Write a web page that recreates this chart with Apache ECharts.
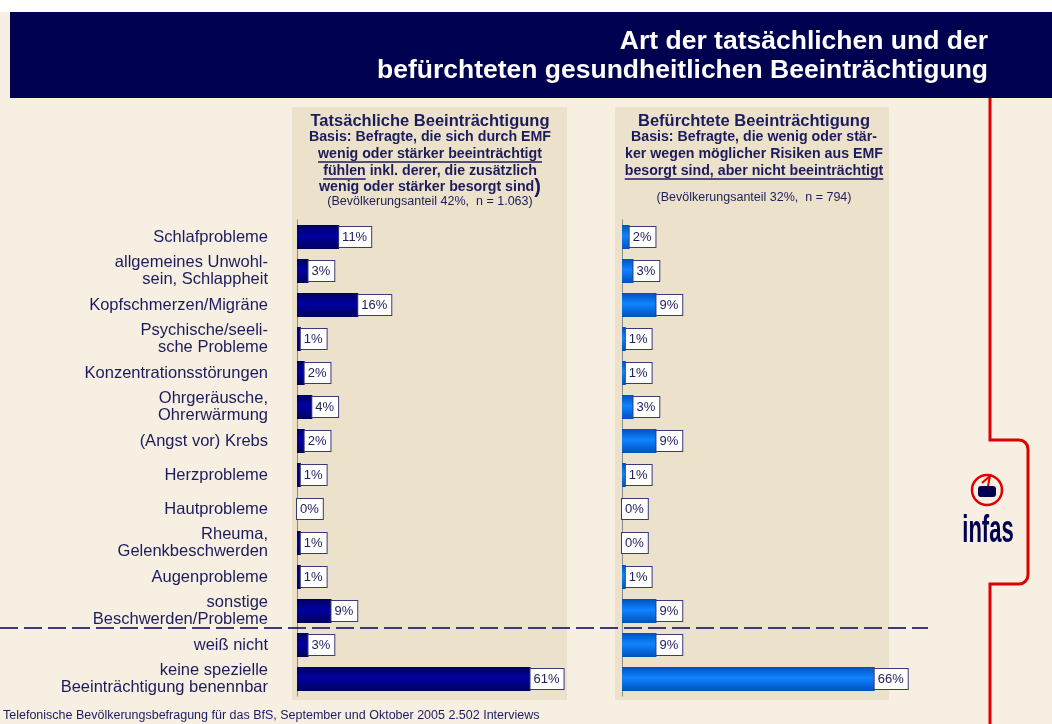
<!DOCTYPE html>
<html lang="de">
<head>
    <meta charset="UTF-8">
    <title>Art der tatsächlichen und der befürchteten gesundheitlichen Beeinträchtigung</title>
    <script src="https://cdn.jsdelivr.net/npm/echarts@6/dist/echarts.min.js"></script>
    <style>
        html, body { margin: 0; padding: 0; background: #f6efe2; }
    </style>
</head>
<body>
    <div id="main" style="width: 1052px;height: 724px"></div>
    <script type="text/javascript">
        // Daten
        var categories = [
            'Schlafprobleme',
            'allgemeines Unwohl-\nsein, Schlappheit',
            'Kopfschmerzen/Migräne',
            'Psychische/seeli-\nsche Probleme',
            'Konzentrationsstörungen',
            'Ohrgeräusche,\nOhrerwärmung',
            '(Angst vor) Krebs',
            'Herzprobleme',
            'Hautprobleme',
            'Rheuma,\nGelenkbeschwerden',
            'Augenprobleme',
            'sonstige\nBeschwerden/Probleme',
            'weiß nicht',
            'keine spezielle\nBeeinträchtigung benennbar'
        ];
        var tatsaechlich = [11, 3, 16, 1, 2, 4, 2, 1, 0, 1, 1, 9, 3, 61];
        var befuerchtet = [2, 3, 9, 1, 1, 3, 9, 1, 0, 0, 1, 9, 9, 66];

        var titleLines = ['Art der tatsächlichen und der', 'befürchteten gesundheitlichen Beeinträchtigung'];
        var footnote = 'Telefonische Bevölkerungsbefragung für das BfS, September und Oktober 2005 2.502 Interviews';

        var navy = '#1c1c5c';
        var red = '#dd0000';
        var font = '"Liberation Sans", Arial, sans-serif';

        // Textbreite messen (für Unterstreichungen)
        var ctx = document.createElement('canvas').getContext('2d');
        function textW(txt, size, bold) {
            ctx.font = (bold ? 'bold ' : '') + size + 'px ' + font;
            return ctx.measureText(txt).width;
        }

        function gradient(edge, mid) {
            return new echarts.graphic.LinearGradient(0, 0, 0, 1, [
                { offset: 0, color: edge },
                { offset: 0.45, color: mid },
                { offset: 1, color: edge }
            ]);
        }

        var barLabel = {
            show: true,
            position: 'right',
            distance: 0,
            formatter: '{c}%',
            color: '#22225e',
            fontFamily: font,
            fontSize: 13,
            backgroundColor: '#ffffff',
            borderColor: '#3a3a78',
            borderWidth: 1,
            padding: [3, 4, 3, 3],
            lineHeight: 14
        };

        // Kopftexte der Panels
        var leftCx = 430, rightCx = 754;
        var hSize = 16.5, bSize = 14.2, sSize = 12.5;
        function txt(x, y, s, size, bold, align) {
            return {
                type: 'text', x: x, y: y, silent: true,
                style: {
                    text: s, fill: navy, fontFamily: font, fontSize: size,
                    fontWeight: bold ? 'bold' : 'normal',
                    align: align || 'center', verticalAlign: 'middle'
                }
            };
        }
        function uline(x1, x2, y) {
            return {
                type: 'line', silent: true,
                shape: { x1: x1, y1: y, x2: x2, y2: y },
                style: { stroke: navy, lineWidth: 1.3 }
            };
        }
        function redLine(points) {
            return {
                type: 'polyline', silent: true,
                shape: { points: points },
                style: { stroke: red, lineWidth: 3, fill: null }
            };
        }
        function redArc(cx, cy, a0, a1) {
            return {
                type: 'arc', silent: true,
                shape: { cx: cx, cy: cy, r: 9, startAngle: a0, endAngle: a1, clockwise: true },
                style: { stroke: red, lineWidth: 3, fill: null }
            };
        }

        var l3 = 'wenig oder stärker beeinträchtigt';
        var l4 = 'fühlen inkl. derer, die zusätzlich';
        var r4 = 'besorgt sind, aber nicht beeinträchtigt';
        var w3 = textW(l3, bSize, true), w4 = textW(l4, bSize, true), w4a = textW('fühlen', bSize, true);
        var wr4 = textW(r4, bSize, true);

        var graphics = [
            // Kopfband
            { type: 'rect', silent: true, shape: { x: 0, y: 0, width: 1052, height: 12 }, style: { fill: '#ffffff' } },
            { type: 'rect', silent: true, shape: { x: 10, y: 12, width: 1042, height: 86 }, style: { fill: '#000050' } },
            {
                type: 'text', silent: true, x: 988, y: 42,
                style: { text: titleLines[0], fill: '#ffffff', fontFamily: font, fontSize: 26.5, fontWeight: 'bold', align: 'right', verticalAlign: 'middle' }
            },
            {
                type: 'text', silent: true, x: 988, y: 71,
                style: { text: titleLines[1], fill: '#ffffff', fontFamily: font, fontSize: 26.5, fontWeight: 'bold', align: 'right', verticalAlign: 'middle' }
            },
            // Panels
            { type: 'rect', silent: true, z: -10, shape: { x: 292, y: 107, width: 275, height: 593 }, style: { fill: '#ece2cc' } },
            { type: 'rect', silent: true, z: -10, shape: { x: 615, y: 107, width: 274, height: 593 }, style: { fill: '#ece2cc' } },
            // linker Kopf
            txt(leftCx, 121, 'Tatsächliche Beeinträchtigung', hSize, true),
            txt(leftCx, 137, 'Basis: Befragte, die sich durch EMF', bSize, true),
            txt(leftCx, 154, l3, bSize, true),
            uline(leftCx - w3 / 2, leftCx + w3 / 2, 162),
            txt(leftCx, 171, l4, bSize, true),
            uline(leftCx - w4 / 2, leftCx - w4 / 2 + w4a, 179),
            {
                type: 'text', silent: true, x: leftCx, y: 187,
                style: {
                    text: '{a|wenig oder stärker besorgt sind}{b|)}',
                    align: 'center', verticalAlign: 'middle',
                    rich: {
                        a: { fill: navy, fontFamily: font, fontSize: bSize, fontWeight: 'bold' },
                        b: { fill: navy, fontFamily: font, fontSize: 20, fontWeight: 'bold' }
                    }
                }
            },
            txt(leftCx, 202, '(Bevölkerungsanteil 42%,  n = 1.063)', sSize, false),
            // rechter Kopf
            txt(rightCx, 121, 'Befürchtete Beeinträchtigung', hSize, true),
            txt(rightCx, 137, 'Basis: Befragte, die wenig oder stär-', bSize, true),
            txt(rightCx, 154, 'ker wegen möglicher Risiken aus EMF', bSize, true),
            txt(rightCx, 171, r4, bSize, true),
            uline(rightCx - wr4 / 2, rightCx + wr4 / 2, 179),
            txt(rightCx, 198, '(Bevölkerungsanteil 32%,  n = 794)', sSize, false),
            // Fußnote
            txt(3, 716, footnote, sSize, false, 'left'),
            // rote Linie mit Klammer
            redLine([[990, 98], [990, 440], [1019, 440]]),
            redArc(1019, 449, -Math.PI / 2, 0),
            redLine([[1028, 449], [1028, 575]]),
            redArc(1019, 575, 0, Math.PI / 2),
            redLine([[1019, 584], [990, 584], [990, 724]]),
            // infas Logo
            {
                type: 'circle', silent: true,
                shape: { cx: 987, cy: 490, r: 15 },
                style: { stroke: red, lineWidth: 2.5, fill: null }
            },
            {
                type: 'rect', silent: true,
                shape: { x: 978, y: 486, width: 18, height: 11, r: 3 },
                style: { fill: '#000050' }
            },
            {
                type: 'polyline', silent: true,
                shape: { points: [[982, 483], [990, 476], [988, 486]] },
                style: { stroke: red, lineWidth: 2, fill: null }
            },
            {
                type: 'text', silent: true, x: 988, y: 532, scaleX: 0.58,
                style: { text: 'infas', fill: '#000050', fontFamily: font, fontSize: 38, fontWeight: 'bold', align: 'center', verticalAlign: 'middle' }
            }
        ];

        var myChart = echarts.init(document.getElementById('main'));

        var option = {
            animation: false,
            backgroundColor: '#f6efe2',
            grid: [
                { left: 297, width: 268, top: 220, height: 476 },
                { left: 622, width: 268, top: 220, height: 476 }
            ],
            xAxis: [
                { gridIndex: 0, type: 'value', min: 0, max: 70, show: false },
                { gridIndex: 1, type: 'value', min: 0, max: 70, show: false }
            ],
            yAxis: [
                {
                    gridIndex: 0, type: 'category', data: categories, inverse: true,
                    axisLine: { show: true, lineStyle: { color: '#8a8a8a', width: 1 } },
                    axisTick: { show: false },
                    axisLabel: {
                        margin: 29, color: navy, fontFamily: font, fontSize: 16.5,
                        lineHeight: 17.5, align: 'right'
                    }
                },
                {
                    gridIndex: 1, type: 'category', data: categories, inverse: true,
                    axisLine: { show: true, lineStyle: { color: '#8a8a8a', width: 1 } },
                    axisTick: { show: false },
                    axisLabel: { show: false }
                }
            ],
            series: [
                {
                    name: 'Tatsächliche Beeinträchtigung',
                    type: 'bar', xAxisIndex: 0, yAxisIndex: 0,
                    data: tatsaechlich, barWidth: 24,
                    itemStyle: { color: gradient('#00005e', '#0000a2') },
                    label: barLabel
                },
                {
                    name: 'Befürchtete Beeinträchtigung',
                    type: 'bar', xAxisIndex: 1, yAxisIndex: 1,
                    data: befuerchtet, barWidth: 24,
                    itemStyle: { color: gradient('#0052bd', '#1183ff') },
                    label: barLabel
                }
            ],
            graphic: graphics
        };
        myChart.setOption(option);

        // gestrichelte Trennlinie zwischen "sonstige" und "weiß nicht"
        var ya = myChart.convertToPixel({ yAxisIndex: 0 }, categories[11]);
        var yb = myChart.convertToPixel({ yAxisIndex: 0 }, categories[12]);
        var ySep = (ya + yb) / 2;
        graphics.push({
            type: 'line', silent: true, z: 10,
            shape: { x1: 0, y1: ySep, x2: 928, y2: ySep },
            style: { stroke: '#000060', lineWidth: 1.3, lineDash: [18, 6] }
        });
        myChart.setOption({ graphic: graphics });
    </script>
</body>
</html>
